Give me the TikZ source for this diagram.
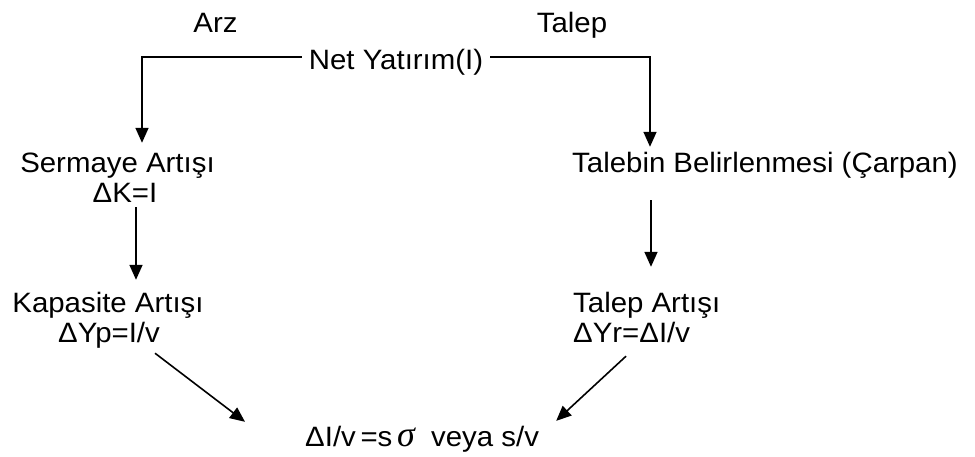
\documentclass[tikz,border=0pt]{standalone}
\usepackage{fontspec}
\setmainfont{Liberation Sans}[FakeStretch=1.05]
\newfontfamily\grkserif{Liberation Serif}
\usetikzlibrary{arrows.meta,calc}
\begin{document}
\begin{tikzpicture}[x=1pt,y=-1pt,
  txt/.style={inner sep=0pt, text height=20pt, text depth=6pt,
              font=\fontsize{28}{34}\selectfont},
  arr/.style={-{Triangle[length=15pt,width=13pt]}, line width=1.6pt}]
\useasboundingbox (0,0) rectangle (975,456);

% labels
\node[txt,anchor=base] (arz) at (215.5,32) {Arz};
\node[txt,anchor=base] (talep) at (572,32) {Talep};
\node[txt,anchor=base,inner xsep=7pt] (net) at (396,69) {Net Yatırım(I)};
\node[txt,anchor=base] (serm) at (117.5,172) {Sermaye Artışı};
\node[txt,anchor=base] (dk) at (125,202) {ΔK=I};
\node[txt,anchor=base] (kap) at (108,312) {Kapasite Artışı};
\node[txt,anchor=base] (dyp) at (109,342) {ΔYp=I/v};
\node[txt,anchor=base west] (taleb) at (572,172) {Talebin Belirlenmesi (Çarpan)};
\node[txt,anchor=base west] (tart) at (573,312) {Talep Artışı};
\node[txt,anchor=base west] (dyr) at (573,342) {ΔYr=ΔI/v};
\node[txt,anchor=base west] (form) at (305,446)
  {ΔI/v\,=s\,{\grkserif\itshape\fontsize{36}{36}\selectfont σ}\ \ veya s/v};

% branch corners
\coordinate (cl) at (142,57);
\coordinate (cr) at (650,57);

% connectors
\draw[arr] (net.west |- cl) -| ($(serm.north -| cl)+(0,-9)$);
\draw[arr] (net.east |- cr) -| ($(taleb.north -| cr)+(0,-5)$);
\draw[arr] ($(dk.south)+(11,-1)$) -- ($(kap.north)+(28,-12)$);
\draw[arr] ($(taleb.south west)+(79,22)$) -- ($(tart.north west)+(78,-25)$);
\draw[arr] ($(dyp.south)+(46,5)$) -- ($(form.north west)+(-60,-4)$);
\draw[arr] ($(dyr.south west)+(53,8)$) -- ($(form.north east)+(17,-5)$);
\end{tikzpicture}
\end{document}
